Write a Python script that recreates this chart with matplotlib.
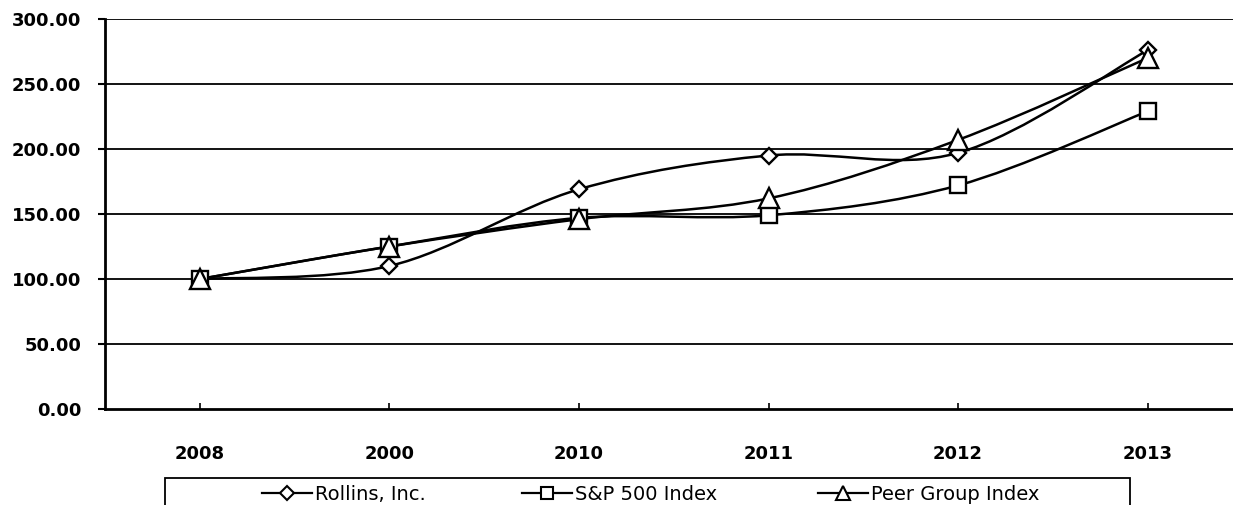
import numpy as np
import matplotlib.pyplot as plt
from matplotlib.path import Path
from matplotlib.patches import PathPatch, Rectangle
from matplotlib.lines import Line2D

years = ['2008', '2000', '2010', '2011', '2012', '2013']
rollins = [100.0, 110.0, 169.0, 195.0, 197.0, 276.0]
sp500 = [100.0, 125.0, 147.0, 149.0, 172.0, 229.0]
peer = [100.0, 125.0, 146.0, 162.0, 207.0, 270.0]

series_names = ['Rollins, Inc.', 'S&P 500 Index', 'Peer Group Index']
markers = ['D', 's', '^']
marker_sizes = [8, 12, 15]
legend_marker_sizes = [7, 8.5, 9.5]

plt.rcParams['font.family'] = ['DejaVu Sans']


def smooth_path(xs, ys):
    # Excel style smoothed line: Catmull-Rom through the points as cubic Beziers
    pts = np.column_stack([xs, ys]).astype(float)
    n = len(pts)
    verts = [pts[0]]
    codes = [Path.MOVETO]
    for i in range(n - 1):
        p_prev = pts[max(i - 1, 0)]
        p0 = pts[i]
        p1 = pts[i + 1]
        p_next = pts[min(i + 2, n - 1)]
        verts += [p0 + (p1 - p_prev) / 6, p1 - (p_next - p0) / 6, p1]
        codes += [Path.CURVE4] * 3
    return Path(verts, codes)


fig = plt.figure(figsize=(12.33, 5.05), dpi=100)
ax = fig.add_axes([105 / 1233, 1 - 409 / 505, 1 - 105 / 1233, (409 - 19) / 505])

x = np.arange(len(years))
for vals, mk, ms in zip([rollins, sp500, peer], markers, marker_sizes):
    ax.add_patch(PathPatch(smooth_path(x, vals), facecolor='none',
                           edgecolor='black', lw=1.8, zorder=3))
    ax.plot(x, vals, ls='none', marker=mk, ms=ms, mfc='white', mec='black',
            mew=1.7, zorder=4)

ax.set_xlim(-0.5, 5.45)
ax.set_ylim(0, 300)
ax.set_yticks(np.arange(0, 301, 50))
ax.set_yticklabels([f'{v:.2f}' for v in np.arange(0, 301, 50)])
ax.set_xticks(x)
ax.set_xticklabels(years)
for v in np.arange(50, 301, 50):
    ax.axhline(v, color='black', lw=1.3, zorder=1)

for s in ['top', 'right']:
    ax.spines[s].set_visible(False)
ax.spines['left'].set_linewidth(2)
ax.spines['bottom'].set_linewidth(2)
ax.tick_params(axis='y', direction='out', length=5, width=1.5, pad=12,
               labelsize=13)
ax.tick_params(axis='x', direction='in', length=4, width=1.2, pad=26,
               labelsize=13)
for lab in ax.get_xticklabels() + ax.get_yticklabels():
    lab.set_fontweight('bold')

# legend box, cut off at the bottom of the figure
fig.add_artist(Rectangle((165 / 1233, -0.05), (1130 - 165) / 1233,
                         (505 - 478) / 505 + 0.05, transform=fig.transFigure,
                         facecolor='none', edgecolor='black', lw=1.3))
leg_x = [262, 522, 818]
leg_y = 1 - 493 / 505
for lx, name, mk, ms in zip(leg_x, series_names, markers, legend_marker_sizes):
    fig.add_artist(Line2D([lx / 1233, (lx + 50) / 1233], [leg_y, leg_y],
                          transform=fig.transFigure, color='black', lw=1.6))
    fig.add_artist(Line2D([(lx + 25) / 1233], [leg_y], transform=fig.transFigure,
                          marker=mk, ms=ms, mfc='white', mec='black', mew=1.5,
                          ls='none'))
    fig.text((lx + 53) / 1233, 1 - 494 / 505, name, fontsize=14, va='center',
             ha='left')

fig.savefig('out.png', dpi=100)
